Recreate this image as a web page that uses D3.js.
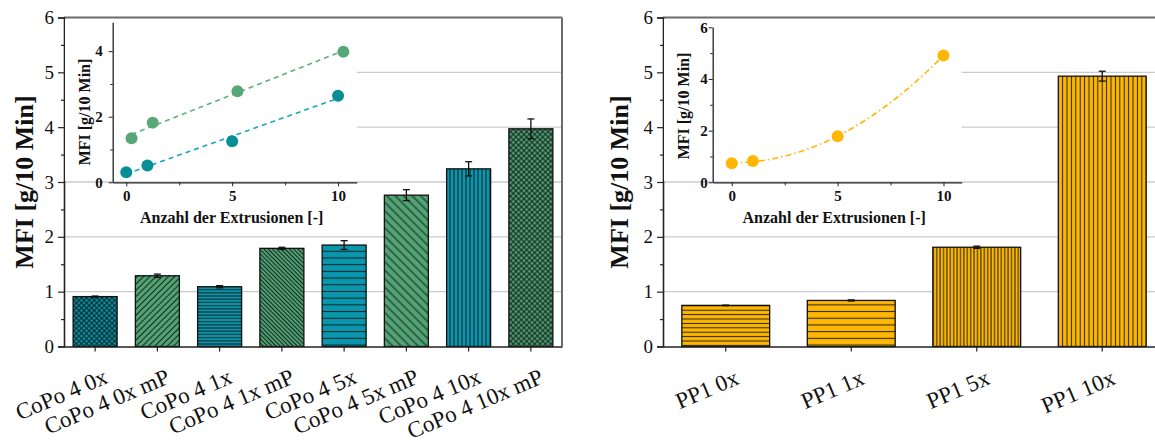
<!DOCTYPE html>
<html>
<head>
<meta charset="utf-8">
<script src="https://cdn.jsdelivr.net/npm/d3@7"></script>
<style>
  html, body { margin: 0; padding: 0; background: #fff; }
  svg { display: block; }
  text { font-family: "Liberation Serif", "Times New Roman", serif; fill: #111; }
</style>
</head>
<body>
<svg id="chart" width="1155" height="444"></svg>
<script>
// ---- data -------------------------------------------------------------
const copoCategories = ["CoPo 4 0x", "CoPo 4 0x mP", "CoPo 4 1x", "CoPo 4 1x mP",
                        "CoPo 4 5x", "CoPo 4 5x mP", "CoPo 4 10x", "CoPo 4 10x mP"];
const copoValues = [0.91, 1.29, 1.09, 1.79, 1.85, 2.76, 3.24, 3.97];
const copoErrors = [0.01, 0.03, 0.02, 0.02, 0.08, 0.10, 0.13, 0.18];

const ppCategories = ["PP1 0x", "PP1 1x", "PP1 5x", "PP1 10x"];
const ppValues = [0.75, 0.84, 1.81, 4.93];
const ppErrors = [0.005, 0.01, 0.02, 0.09];

const mainTicks = [0, 1, 2, 3, 4, 5, 6];

// inset: MFI against number of extrusions
const extrusions = [0, 1, 5, 10];
const extrusionsMP = [0.25, 1.25, 5.25, 10.25];
const insetCoPo = [0.31, 0.51, 1.25, 2.64];
const insetCoPoMP = [1.34, 1.82, 2.78, 3.98];
const insetPP = [0.74, 0.82, 1.78, 4.91];
const insetXTicks = [0, 5, 10];
const insetCoPoYTicks = [0, 2, 4];
const insetPPYTicks = [0, 2, 4, 6];

// ---- styling ----------------------------------------------------------
const TEAL = "#0a97ad", GREEN = "#52a474", ORANGE = "#ffb703";
const copoColors = [TEAL, GREEN, TEAL, GREEN, TEAL, GREEN, TEAL, GREEN];
// hatch type + spacing per bar
const copoHatch = [["cross", 3.6], ["fdiag", 4.4], ["hline", 3.2], ["bdiag", 3.0],
                   ["hline", 6.7], ["bdiag", 6.0], ["vline", 4.0], ["cross", 3.8]];
const ppHatch = [["hline", 4.4], ["hline", 6.7], ["vline", 3.4], ["vline", 4.4]];

const svg = d3.select("#chart");
const defs = svg.append("defs");

function makePattern(id, color, type, s) {
  const p = defs.append("pattern").attr("id", id)
    .attr("patternUnits", "userSpaceOnUse")
    .attr("width", s).attr("height", s);
  if (type === "fdiag") p.attr("patternTransform", "rotate(-45)");
  if (type === "bdiag" || type === "cross") p.attr("patternTransform", "rotate(45)");
  p.append("rect").attr("width", s).attr("height", s).attr("fill", color);
  const stroke = "rgba(10,20,20,0.85)";
  if (type === "hline" || type === "fdiag" || type === "bdiag" || type === "cross")
    p.append("line").attr("x1", 0).attr("x2", s).attr("y1", s / 2).attr("y2", s / 2)
      .attr("stroke", stroke).attr("stroke-width", 1.1);
  if (type === "vline" || type === "cross")
    p.append("line").attr("y1", 0).attr("y2", s).attr("x1", s / 2).attr("x2", s / 2)
      .attr("stroke", stroke).attr("stroke-width", 1.1);
  return `url(#${id})`;
}

const plotTop = 17.5, plotBottom = 346.5;
const y = d3.scaleLinear().domain([0, 6]).range([plotBottom, plotTop]);

function barPanel(cfg) {
  const g = svg.append("g");
  const x = d3.scaleBand().domain(cfg.categories).range([cfg.left, cfg.right])
    .paddingInner(cfg.pad).paddingOuter(cfg.pad / 2);

  // horizontal grid
  g.append("g").selectAll("line").data(mainTicks.filter(t => t > 0 && t < 6)).join("line")
    .attr("x1", cfg.left).attr("x2", cfg.right)
    .attr("y1", d => y(d)).attr("y2", d => y(d))
    .attr("stroke", "#cbcbcb").attr("stroke-width", 1.4);

  // bars
  const fills = cfg.categories.map((c, i) =>
    makePattern(`${cfg.id}-p${i}`, cfg.colors[i], cfg.hatch[i][0], cfg.hatch[i][1]));
  g.append("g").selectAll("rect").data(cfg.values).join("rect")
    .attr("x", (d, i) => x(cfg.categories[i]))
    .attr("width", x.bandwidth())
    .attr("y", d => y(d))
    .attr("height", d => y(0) - y(d))
    .attr("fill", (d, i) => fills[i])
    .attr("stroke", "#111").attr("stroke-width", 1.3);

  // error bars
  const eb = g.append("g").attr("stroke", "#111").attr("stroke-width", 1.3);
  cfg.values.forEach((v, i) => {
    const cx = x(cfg.categories[i]) + x.bandwidth() / 2;
    const e = cfg.errors[i];
    eb.append("line").attr("x1", cx).attr("x2", cx).attr("y1", y(v - e)).attr("y2", y(v + e));
    eb.append("line").attr("x1", cx - 3.5).attr("x2", cx + 3.5).attr("y1", y(v - e)).attr("y2", y(v - e));
    eb.append("line").attr("x1", cx - 3.5).attr("x2", cx + 3.5).attr("y1", y(v + e)).attr("y2", y(v + e));
  });

  // frame (top + right)
  g.append("line").attr("x1", cfg.left).attr("x2", cfg.right).attr("y1", plotTop).attr("y2", plotTop)
    .attr("stroke", "#6b6b6b").attr("stroke-width", 2);
  g.append("line").attr("x1", cfg.right).attr("x2", cfg.right).attr("y1", plotTop).attr("y2", plotBottom)
    .attr("stroke", "#6b6b6b").attr("stroke-width", 2);

  // y axis
  const yAxis = d3.axisLeft(y).tickValues(mainTicks).tickSize(6).tickPadding(4).tickFormat(d3.format("d"));
  const ya = g.append("g").attr("transform", `translate(${cfg.left},0)`).call(yAxis);
  ya.select(".domain").attr("stroke", "#222").attr("stroke-width", 1.6);
  ya.selectAll(".tick line").attr("stroke", "#222").attr("stroke-width", 1.2);
  ya.selectAll(".tick text").attr("font-size", 19).attr("fill", "#222");
  const yMinor = d3.axisLeft(y).tickValues(d3.range(0.5, 6, 1)).tickSize(3).tickFormat("");
  const ym = g.append("g").attr("transform", `translate(${cfg.left},0)`).call(yMinor);
  ym.select(".domain").remove();
  ym.selectAll(".tick line").attr("stroke", "#222").attr("stroke-width", 1.2);

  // x axis
  const xAxis = d3.axisBottom(x).tickSize(5).tickSizeOuter(0).tickFormat("");
  const xa = g.append("g").attr("transform", `translate(0,${plotBottom})`).call(xAxis);
  xa.select(".domain").attr("stroke", "#222").attr("stroke-width", 1.6);
  xa.selectAll(".tick line").attr("stroke", "#222").attr("stroke-width", 1.2);

  // rotated category labels
  g.append("g").selectAll("text").data(cfg.categories).join("text")
    .attr("transform", d => `translate(${x(d) + x.bandwidth() / 2 + cfg.labelDx},${plotBottom + cfg.labelDy}) rotate(-23)`)
    .attr("text-anchor", "end")
    .attr("font-size", 23)
    .text(d => d);

  // y title
  g.append("text")
    .attr("transform", `translate(${cfg.titleX},${(plotTop + plotBottom) / 2}) rotate(-90)`)
    .attr("text-anchor", "middle").attr("font-weight", "bold").attr("font-size", 26)
    .text("MFI [g/10 Min]");
}

barPanel({ id: "copo", categories: copoCategories, values: copoValues, errors: copoErrors,
           colors: copoColors, hatch: copoHatch, left: 64, right: 562, pad: 0.293,
           labelDx: 14, labelDy: 36, titleX: 33 });
barPanel({ id: "pp", categories: ppCategories, values: ppValues, errors: ppErrors,
           colors: ppCategories.map(() => ORANGE), hatch: ppHatch, left: 663, right: 1165, pad: 0.30,
           labelDx: 14.5, labelDy: 37, titleX: 628 });

// ---- insets -----------------------------------------------------------
function inset(cfg) {
  const g = svg.append("g");
  g.append("rect").attr("x", cfg.bgLeft).attr("y", plotTop + 1.5)
    .attr("width", cfg.xRange[1] - cfg.bgLeft).attr("height", 181 - plotTop - 1.5).attr("fill", "#fff");
  const x = d3.scaleLinear().domain(cfg.xDomain).range(cfg.xRange);
  const yy = d3.scaleLinear().domain(cfg.yDomain).range([182.3, cfg.yTop]);
  const fmt = d3.format("d");

  const xa = g.append("g").attr("transform", "translate(0,182.3)")
    .call(d3.axisBottom(x).tickValues(insetXTicks).tickSize(4).tickSizeOuter(0).tickPadding(4).tickFormat(fmt));
  const xm = g.append("g").attr("transform", "translate(0,182.3)")
    .call(d3.axisBottom(x).tickValues([2.5, 7.5]).tickSize(3).tickSizeOuter(0).tickFormat(""));
  xm.select(".domain").remove();
  const ya = g.append("g").attr("transform", `translate(${cfg.xRange[0]},0)`)
    .call(d3.axisLeft(yy).tickValues(cfg.yTicks).tickSize(4).tickSizeOuter(0).tickPadding(cfg.yPad).tickFormat(fmt));
  const ym = g.append("g").attr("transform", `translate(${cfg.xRange[0]},0)`)
    .call(d3.axisLeft(yy).tickValues(cfg.yMinor).tickSize(2.5).tickFormat(""));
  ym.select(".domain").remove();
  [xa, xm, ya, ym].forEach(a => {
    a.select(".domain").attr("stroke", "#222").attr("stroke-width", 1.3);
    a.selectAll(".tick line").attr("stroke", "#222").attr("stroke-width", 1);
    a.selectAll(".tick text").attr("font-size", 15).attr("font-weight", "bold").attr("fill", "#222");
  });

  // fitted trend lines
  cfg.series.forEach(s => {
    const xs = s.x, ys = s.y;
    let fit;
    if (s.order === 1) {
      const mx = d3.mean(xs), my = d3.mean(ys);
      const b = d3.sum(xs, (v, i) => (v - mx) * (ys[i] - my)) / d3.sum(xs, v => (v - mx) ** 2);
      fit = t => my + b * (t - mx);
    } else {
      // least-squares quadratic via normal equations
      const S = k => d3.sum(xs, v => v ** k);
      const T = k => d3.sum(xs, (v, i) => v ** k * ys[i]);
      const A = [[S(0), S(1), S(2)], [S(1), S(2), S(3)], [S(2), S(3), S(4)]];
      const B = [T(0), T(1), T(2)];
      const det = m => m[0][0] * (m[1][1] * m[2][2] - m[1][2] * m[2][1])
        - m[0][1] * (m[1][0] * m[2][2] - m[1][2] * m[2][0])
        + m[0][2] * (m[1][0] * m[2][1] - m[1][1] * m[2][0]);
      const D = det(A);
      const c = [0, 1, 2].map(j => det(A.map((row, r) => row.map((v, k) => (k === j ? B[r] : v)))) / D);
      fit = t => c[0] + c[1] * t + c[2] * t * t;
    }
    const [x0, x1] = d3.extent(xs);
    const pts = d3.range(0, 41).map(k => x0 + (x1 - x0) * k / 40);
    g.append("path")
      .attr("d", d3.line().x(t => x(t)).y(t => yy(fit(t)))(pts))
      .attr("fill", "none").attr("stroke", s.lineColor).attr("stroke-width", 1.6)
      .attr("stroke-dasharray", s.dash);
  });
  cfg.series.forEach(s => {
    g.append("g").selectAll("circle").data(s.y).join("circle")
      .attr("cx", (d, i) => x(s.x[i])).attr("cy", d => yy(d)).attr("r", 6)
      .attr("fill", s.color);
  });

  g.append("text").attr("x", (cfg.xRange[0] + cfg.xRange[1]) / 2 - 3).attr("y", 222.5)
    .attr("text-anchor", "middle").attr("font-weight", "bold").attr("font-size", 16)
    .text("Anzahl der Extrusionen [-]");
  g.append("text")
    .attr("transform", `translate(${cfg.labelX},${cfg.labelY}) rotate(-90)`)
    .attr("text-anchor", "middle").attr("font-weight", "bold").attr("font-size", 16)
    .text("MFI [g/10 Min]");
}

inset({
  bgLeft: 65, xDomain: [-0.64, 10.88], xRange: [112.7, 356.7], yDomain: [0, 4.88], yTop: 22.3,
  yTicks: insetCoPoYTicks, yMinor: [1, 3], yPad: 6, labelX: 90, labelY: 112,
  series: [
    { x: extrusionsMP, y: insetCoPoMP, color: "#56a877", lineColor: "#5cb080", dash: "5,4", order: 1 },
    { x: extrusions, y: insetCoPo, color: "#078f96", lineColor: "#18a7bb", dash: "5,4", order: 1 }
  ]
});
inset({
  bgLeft: 664, xDomain: [-0.9, 10.86], xRange: [712.7, 961.7], yDomain: [0, 6], yTop: 27.3,
  yTicks: insetPPYTicks, yMinor: [1, 3, 5], yPad: 1, labelX: 689, labelY: 106,
  series: [
    { x: extrusions, y: insetPP, color: "#ffb703", lineColor: "#ffb703", dash: "6,3,1.6,3", order: 2 }
  ]
});
</script>
</body>
</html>
